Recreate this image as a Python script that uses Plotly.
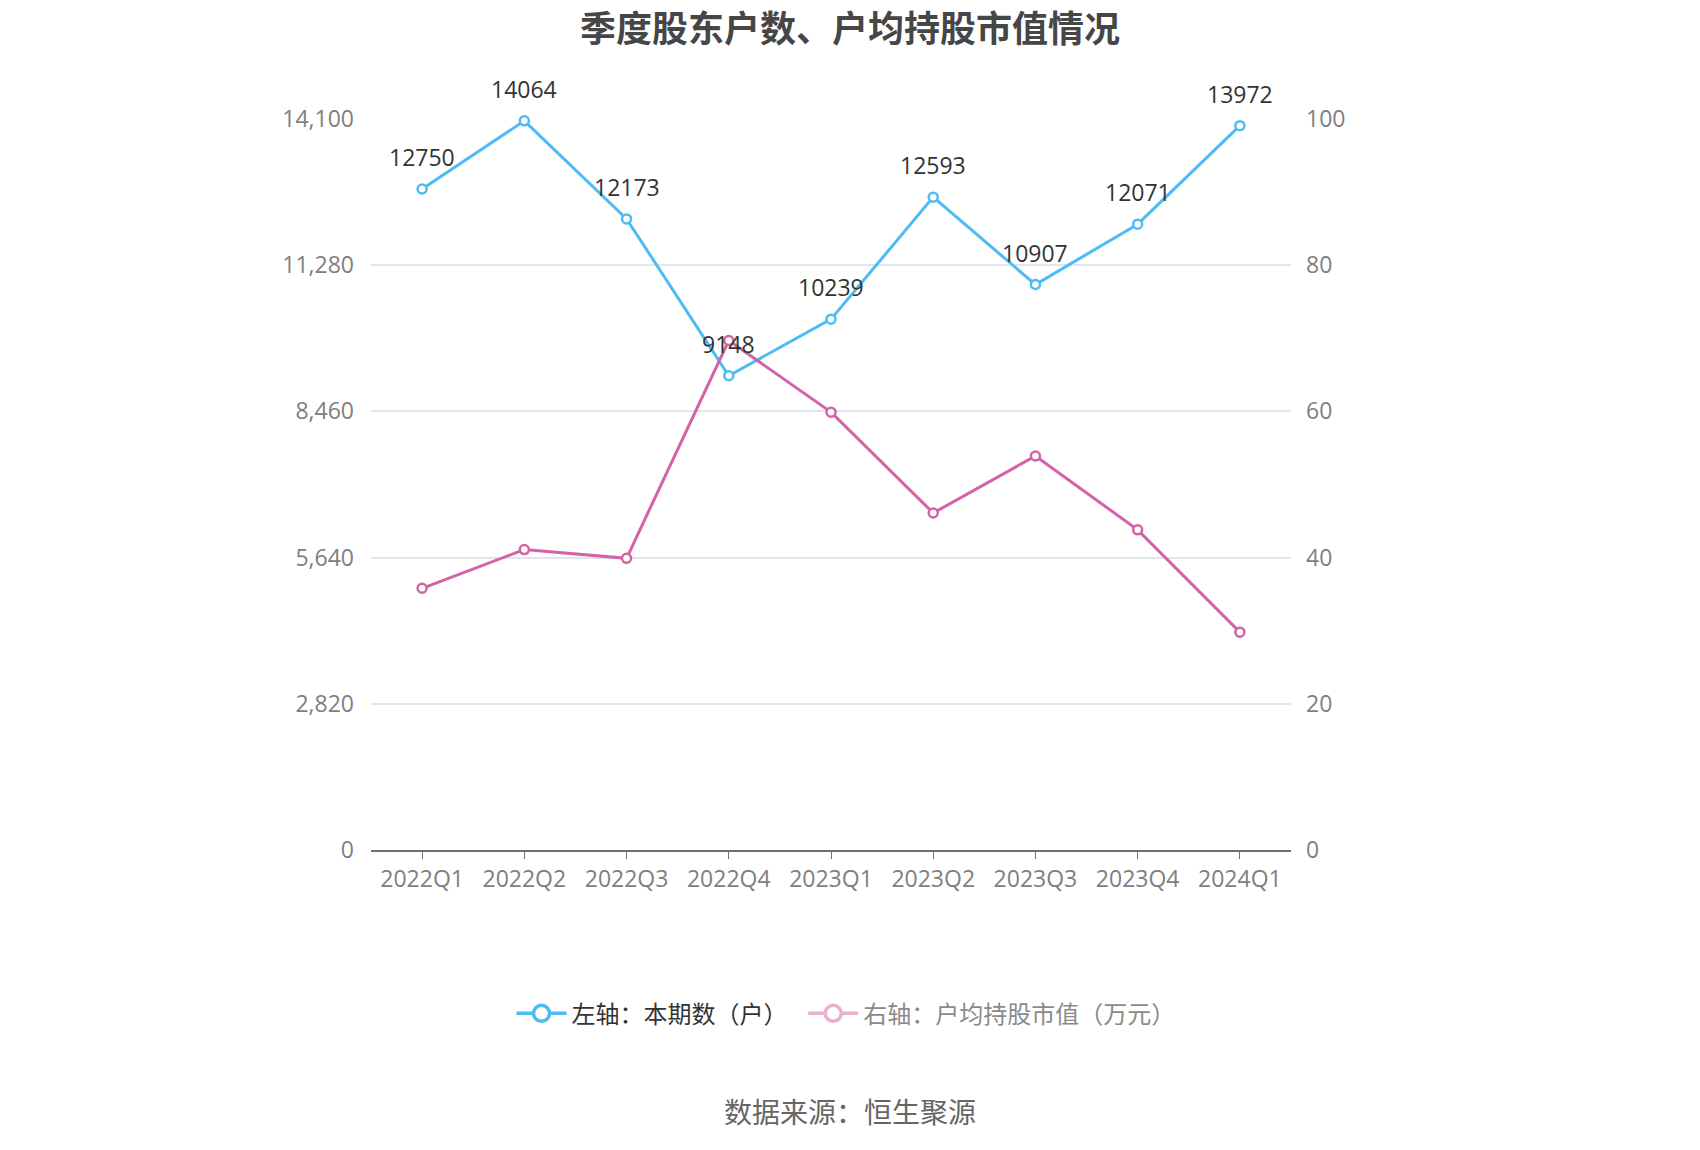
import plotly.graph_objects as go

categories = ["2022Q1", "2022Q2", "2022Q3", "2022Q4", "2023Q1", "2023Q2", "2023Q3", "2023Q4", "2024Q1"]
holders = [12750, 14064, 12173, 9148, 10239, 12593, 10907, 12071, 13972]
avg_value = [35.8, 41.1, 39.9, 69.7, 59.9, 46.1, 53.9, 43.8, 29.8]
left_ticks = [0, 2820, 5640, 8460, 11280, 14100]
right_ticks = [0, 20, 40, 60, 80, 100]

BLUE = "#4ebcf4"
PINK = "#d462a6"
FONT = "Open Sans, Noto Sans CJK SC"
CJK = "Noto Sans CJK SC"

fig = go.Figure()

fig.add_trace(go.Scatter(
    x=categories, y=holders, name="左轴：本期数（户）",
    mode="lines+markers",
    line=dict(color=BLUE, width=3),
    marker=dict(symbol="circle", size=9, color="white", line=dict(color=BLUE, width=2.5)),
    yaxis="y", showlegend=False, cliponaxis=False,
))

fig.add_trace(go.Scatter(
    x=categories, y=avg_value, name="右轴：户均持股市值（万元）",
    mode="lines+markers",
    line=dict(color=PINK, width=3),
    marker=dict(symbol="circle", size=9, color="white", line=dict(color=PINK, width=2.5)),
    yaxis="y2", showlegend=False, cliponaxis=False,
))

# legend entries
fig.add_trace(go.Scatter(
    x=[None], y=[None], name="左轴：本期数（户）&nbsp;&nbsp;",
    mode="lines+markers",
    line=dict(color=BLUE, width=3.5),
    marker=dict(symbol="circle", size=16, color="white", line=dict(color=BLUE, width=3.5)),
    showlegend=True,
))
fig.add_trace(go.Scatter(
    x=[None], y=[None],
    name='<span style="color:#8a8a8a">右轴：户均持股市值（万元）</span>',
    mode="lines+markers", opacity=0.5,
    line=dict(color=PINK, width=3.5),
    marker=dict(symbol="circle", size=16, color="white", line=dict(color=PINK, width=3.5)),
    showlegend=True,
))

annotations = [
    dict(x=c, y=v, xref="x", yref="y", text=str(v), showarrow=False,
         yshift=32, xanchor="center", yanchor="middle",
         font=dict(size=23, color="#333333", family=FONT))
    for c, v in zip(categories, holders)
]
annotations.append(dict(text="数据来源：恒生聚源", xref="paper", yref="paper",
                        x=(850 - 371) / 920, y=(850 - 1111) / 731,
                        xanchor="center", yanchor="middle", showarrow=False,
                        font=dict(size=28, color="#666666", family=CJK)))

fig.update_layout(
    width=1700, height=1150,
    paper_bgcolor="white", plot_bgcolor="white",
    margin=dict(l=371, r=409, t=119, b=300),
    font=dict(family=FONT, size=23, color="#333333"),
    title=dict(text="<b>季度股东户数、户均持股市值情况</b>", x=0.5, xanchor="center",
               y=1 - 29 / 1150, yanchor="middle",
               font=dict(size=36, color="#464646", family=CJK)),
    xaxis=dict(
        type="category", range=[-0.5, 8.5], showgrid=False,
        showline=True, linecolor="#6e7079", linewidth=2,
        ticks="outside", ticklen=7, tickcolor="#6e7079",
        tickfont=dict(size=23, color="#808080", family=FONT),
    ),
    yaxis=dict(
        range=[0, 14100], tickvals=left_ticks, tickformat=",",
        showgrid=True, gridcolor="#e0e6f1", gridwidth=2, zeroline=False,
        showline=False, ticks="", ticklabelstandoff=16,
        tickfont=dict(size=23, color="#808080", family=FONT),
    ),
    yaxis2=dict(
        range=[0, 100], tickvals=right_ticks, overlaying="y", side="right",
        showgrid=False, zeroline=False, showline=False, ticks="", ticklabelstandoff=14,
        tickfont=dict(size=23, color="#808080", family=FONT),
    ),
    legend=dict(orientation="h", x=(846 - 371) / 920, xanchor="center", y=-0.224, yanchor="middle",
                font=dict(size=24, color="#333333", family=CJK), itemwidth=50),
    annotations=annotations,
)

fig.write_html("out.html")
